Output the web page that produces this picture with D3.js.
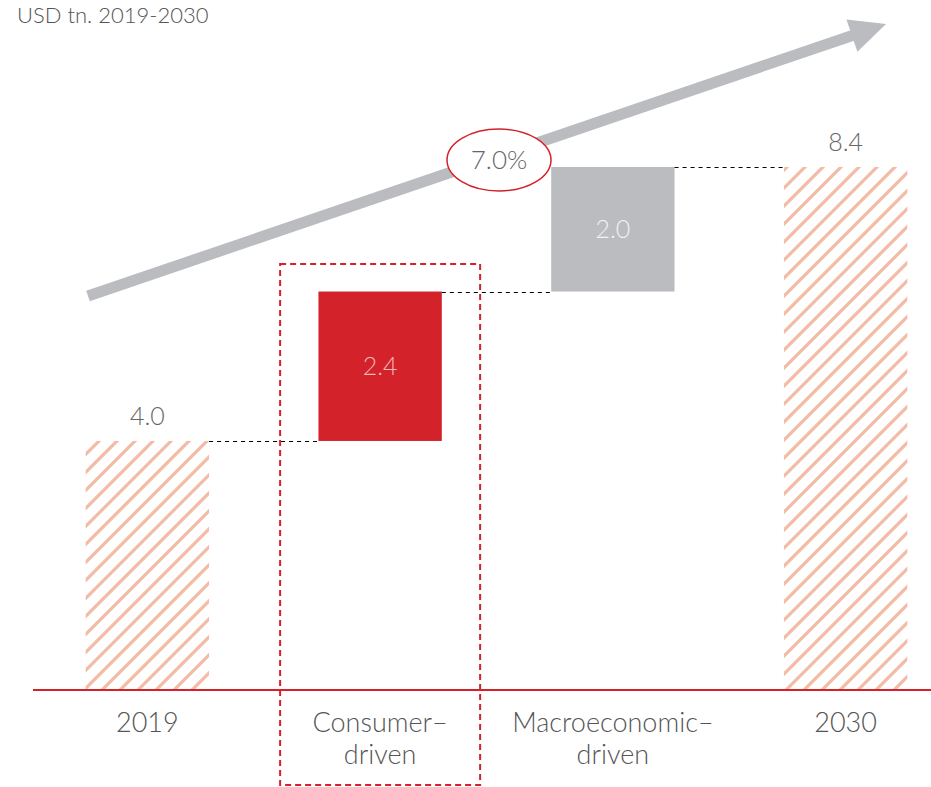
<!DOCTYPE html>
<style>
body { margin: 0; background: #fff; }
text { font-family: Lato, "Open Sans", sans-serif; font-weight: 300; }
</style>
<svg width="931" height="787"></svg>
<script src="https://d3js.org/d3.v7.min.js"></script>
<script>

var categories = ["2019", "Consumer–|driven", "Macroeconomic–|driven", "2030"];
var values = [4.0, 2.4, 2.0, 8.4];
var kinds = ["total", "delta", "delta", "total"];
var cagr = "7.0%";
var title = "USD tn. 2019-2030";

var svg = d3.select("svg"),
    baseY = 690;

// running totals for the waterfall
var run = 0;
var bars = categories.map(function(c, i) {
  var lo, hi;
  if (kinds[i] == "total") { lo = 0; hi = values[i]; run = values[i]; }
  else { lo = run; hi = run + values[i]; run = hi; }
  return {cat: c, value: values[i], kind: kinds[i], lo: lo, hi: hi};
});

var x = d3.scaleBand()
    .domain(categories)
    .range([31, 962])
    .paddingInner(0.47)
    .paddingOuter(0.235);

var y = d3.scaleLinear()
    .domain([0, 8.4])
    .range([baseY, 167]);

var defs = svg.append("defs");
defs.append("pattern")
    .attr("id", "hatch")
    .attr("patternUnits", "userSpaceOnUse")
    .attr("width", 18)
    .attr("height", 18)
  .append("path")
    .attr("d", "M-4.5,4.5 l9,-9 M0,18 l18,-18 M13.5,22.5 l9,-9")
    .attr("stroke", "#f3bba6")
    .attr("stroke-width", 3.2);

// title
svg.append("text")
    .attr("x", 17)
    .attr("y", 23)
    .attr("font-size", 22)
    .attr("fill", "#555")
    .text(title);

// growth arrow
var ax0 = 88, ay0 = 296, ax1 = 886, ay1 = 24;
var ang = Math.atan2(ay1 - ay0, ax1 - ax0);
svg.append("line")
    .attr("x1", ax0).attr("y1", ay0)
    .attr("x2", ax1 - 30 * Math.cos(ang)).attr("y2", ay1 - 30 * Math.sin(ang))
    .attr("stroke", "#bbbcc0")
    .attr("stroke-width", 11);
svg.append("path")
    .attr("d", "M0,0 L-36,-17 L-36,17 Z")
    .attr("fill", "#bbbcc0")
    .attr("transform", "translate(" + ax1 + "," + ay1 + ") rotate(" + (ang * 180 / Math.PI) + ")");

// ellipse with cagr
svg.append("ellipse")
    .attr("cx", 499).attr("cy", 160)
    .attr("rx", 52).attr("ry", 31)
    .attr("fill", "#fff")
    .attr("stroke", "#d3222a")
    .attr("stroke-width", 1.5);
svg.append("text")
    .attr("x", 499).attr("y", 160)
    .attr("dy", "0.36em")
    .attr("text-anchor", "middle")
    .attr("font-size", 26)
    .attr("fill", "#666")
    .text(cagr);

// bars
svg.append("g")
  .selectAll("rect")
  .data(bars)
  .enter().append("rect")
    .attr("x", function(d) { return x(d.cat); })
    .attr("y", function(d) { return y(d.hi); })
    .attr("width", x.bandwidth())
    .attr("height", function(d) { return y(d.lo) - y(d.hi); })
    .attr("fill", function(d, i) {
      if (d.kind == "total") return "url(#hatch)";
      return i == 1 ? "#d3222a" : "#bbbcc0";
    });

// connectors
svg.append("g")
  .selectAll("line")
  .data(bars.slice(0, -1))
  .enter().append("line")
    .attr("x1", function(d) { return x(d.cat) + x.bandwidth(); })
    .attr("x2", function(d, i) { return x(bars[i + 1].cat); })
    .attr("y1", function(d) { return Math.round(y(d.hi)) + 0.5; })
    .attr("y2", function(d) { return Math.round(y(d.hi)) + 0.5; })
    .attr("stroke", "#000")
    .attr("stroke-width", 1.2)
    .attr("stroke-dasharray", "4,4");

// value labels
svg.append("g")
  .selectAll("text")
  .data(bars)
  .enter().append("text")
    .attr("x", function(d) { return x(d.cat) + x.bandwidth() / 2; })
    .attr("y", function(d) { return d.kind == "total" ? y(d.hi) - 16 : (y(d.hi) + y(d.lo)) / 2; })
    .attr("dy", function(d) { return d.kind == "total" ? 0 : "0.36em"; })
    .attr("text-anchor", "middle")
    .attr("font-size", 25)
    .attr("fill", function(d, i) { return d.kind == "total" ? "#666" : (i == 1 ? "#f2b8b8" : "#f2f2f2"); })
    .text(function(d) { return d3.format(".1f")(d.value); });

// baseline
svg.append("line")
    .attr("x1", 33).attr("x2", 931)
    .attr("y1", baseY).attr("y2", baseY)
    .attr("stroke", "#d3222a")
    .attr("stroke-width", 2);

// category labels
var cl = svg.append("g")
  .selectAll("text")
  .data(categories)
  .enter().append("text")
    .attr("x", function(d) { return x(d) + x.bandwidth() / 2; })
    .attr("y", 732)
    .attr("text-anchor", "middle")
    .attr("font-size", 27)
    .attr("fill", "#555");
cl.selectAll("tspan")
  .data(function(d) { return d.split("|"); })
  .enter().append("tspan")
    .attr("x", function() { return d3.select(this.parentNode).attr("x"); })
    .attr("dy", function(d, i) { return i ? 32 : 0; })
    .text(function(d) { return d; });

// highlight box around consumer-driven
var hc = x(categories[1]) + x.bandwidth() / 2;
svg.append("rect")
    .attr("x", hc - 100)
    .attr("y", 264)
    .attr("width", 200)
    .attr("height", 521)
    .attr("fill", "none")
    .attr("stroke", "#d3222a")
    .attr("stroke-width", 2)
    .attr("stroke-dasharray", "6,4");

</script>
